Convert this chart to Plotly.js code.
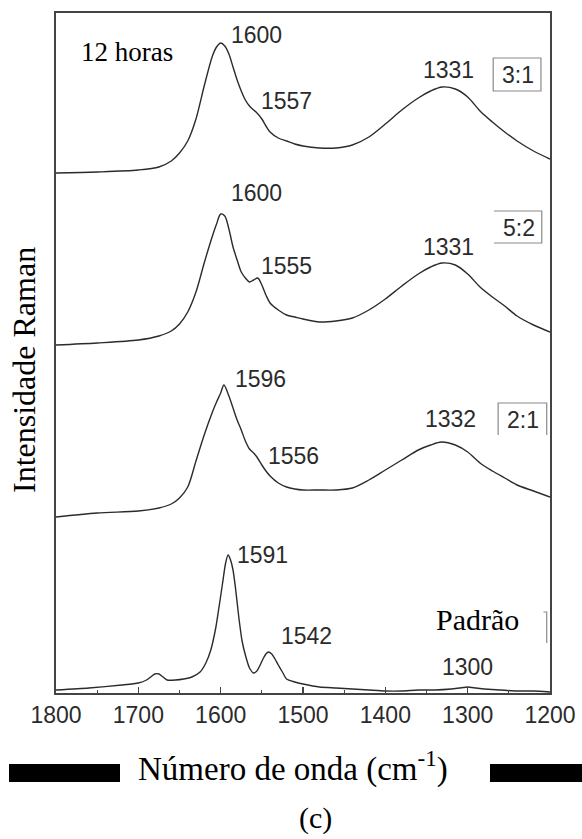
<!DOCTYPE html>
<html>
<head>
<meta charset="utf-8">
<script src="https://cdn.plot.ly/plotly-3.0.1.min.js"></script>
<style>
  html, body { margin: 0; padding: 0; background: #fff; }
  #chart { width: 582px; height: 839px; }
</style>
</head>
<body>
<div id="chart"></div>
<script>
// Raman spectra after 12 h of synthesis, three molar ratios and the reference (Padrão).
// Wavenumbers in cm-1, intensities in arbitrary units (each spectrum from its own baseline).

const wn31 = [1800,1750,1700,1675,1660,1650,1640,1630,1620,1610,1605,1600,1595,1590,1585,1580,1575,1570,1565,1560,1557,1550,1545,1540,1530,1520,1510,1500,1480,1460,1440,1420,1400,1380,1360,1345,1331,1315,1300,1285,1270,1255,1240,1220,1200];
const int31 = [5,6,8,11,17,25,37,59,92,122,131,135,132,124,111,98,87,78,72,68,66,59,52,46,40,37,34,32,30,30,33,41,54,68,80,87,91,89,81,67,56,46,37,27,19];

const wn52 = [1800,1750,1700,1675,1660,1650,1640,1630,1620,1610,1605,1600,1595,1590,1585,1580,1575,1570,1565,1560,1555,1550,1545,1540,1530,1520,1510,1500,1480,1460,1440,1420,1400,1380,1360,1345,1331,1315,1300,1285,1270,1255,1240,1220,1200];
const int52 = [3,5,8,12,17,24,36,56,85,112,124,134,132,119,101,88,76,70,66,68,70,63,53,45,38,33,31,29,26,27,30,38,49,62,74,81,85,83,74,61,51,42,32,23,16];

const wn21 = [1800,1750,1700,1675,1660,1650,1640,1630,1620,1610,1605,1600,1596,1590,1585,1580,1575,1570,1565,1560,1556,1550,1545,1540,1530,1520,1510,1500,1480,1460,1440,1420,1400,1380,1360,1345,1332,1315,1300,1285,1270,1255,1240,1220,1200];
const int21 = [1,5,7,10,14,20,31,57,83,106,116,125,133,122,110,98,88,77,69,65,61,53,47,42,35,31,29,28,28,28,30,38,48,58,68,73,76,73,66,55,47,40,33,27,21];

const wnPad = [1800,1760,1720,1700,1690,1685,1680,1675,1670,1665,1655,1645,1635,1625,1618,1612,1606,1602,1598,1594,1591,1588,1585,1582,1578,1574,1570,1565,1560,1556,1552,1548,1545,1542,1538,1534,1530,1525,1520,1510,1500,1480,1460,1440,1420,1400,1380,1360,1340,1320,1310,1300,1290,1280,1260,1240,1220,1200];
const intPad = [3,5,8,10,13,16,19,19,16,13,13,14,16,21,30,43,65,86,108,130,138,133,123,105,76,52,38,25,20,22,28,35,39,41,39,34,28,21,14,11,9,6,5,4,3,2,2,3,3,4,5,6,5,4,3,2,2,1];

// labelled band positions (cm-1)
const peaks31 = [1600, 1557, 1331];
const peaks52 = [1600, 1555, 1331];
const peaks21 = [1596, 1556, 1332];
const peaksPad = [1591, 1542, 1300];

const ratioLabels = ["3:1", "5:2", "2:1"];
const standardLabel = "Padrão";
const timeLabel = "12 horas";

// vertical stacking of the spectra
const offsets = [515, 345, 175, 0];

const INK = "#2b2b2b";
const SANS = "Liberation Sans, Arial, sans-serif";
const SERIF = "Liberation Serif, Times New Roman, serif";

function spectrum(x, y, off, smooth) {
  return {
    x: x,
    y: y.map(v => v + off),
    type: "scatter",
    mode: "lines",
    line: { color: INK, width: 1.4, shape: "spline", smoothing: smooth },
    hoverinfo: "skip",
    showlegend: false
  };
}

const traces = [
  spectrum(wn31, int31, offsets[0], 0.85),
  spectrum(wn52, int52, offsets[1], 0.85),
  spectrum(wn21, int21, offsets[2], 0.85),
  spectrum(wnPad, intPad, offsets[3], 0.6)
];

function num(text, x, y) {
  return { text: String(text), x: x, y: y, xref: "x", yref: "y", showarrow: false,
           xanchor: "center", yanchor: "middle",
           font: { family: SANS, size: 23, color: INK } };
}

// pixel helpers for paper-anchored items (plot area 56..550 x 13..693)
const px = x => (x - 56) / 494;
const py = y => (693 - y) / 680;

const annotations = [
  // 3:1
  num(peaks31[0], 1556, 658),
  num(peaks31[1], 1520, 592),
  num(peaks31[2], 1323, 623),
  num(ratioLabels[0], 1239, 618),
  // 5:2
  num(peaks52[0], 1556, 500),
  num(peaks52[1], 1520, 427),
  num(peaks52[2], 1323, 446),
  num(ratioLabels[1], 1238, 465),
  // 2:1
  num(peaks21[0], 1552, 314),
  num(peaks21[1], 1511, 237),
  num(peaks21[2], 1321, 274),
  num(ratioLabels[2], 1233, 273),
  // reference
  num(peaksPad[0], 1549, 138),
  num(peaksPad[1], 1496, 57),
  num(peaksPad[2], 1300, 26),
  { text: standardLabel, x: 1288, y: 74, xref: "x", yref: "y", showarrow: false,
    xanchor: "center", yanchor: "middle", font: { family: SERIF, size: 30, color: "#000" } },
  { text: timeLabel, x: 1714, y: 641, xref: "x", yref: "y", showarrow: false,
    xanchor: "center", yanchor: "middle", font: { family: SERIF, size: 27, color: "#000" } },
  // axis titles and panel tag
  { text: "Intensidade Raman", x: px(24), y: py(370), xref: "paper", yref: "paper",
    showarrow: false, textangle: -90, xanchor: "center", yanchor: "middle",
    font: { family: SERIF, size: 32, color: "#000" } },
  { text: "Número de onda (cm<sup>-1</sup>)", x: px(293), y: py(766), xref: "paper", yref: "paper",
    showarrow: false, xanchor: "center", yanchor: "middle",
    font: { family: SERIF, size: 33, color: "#000" } },
  { text: "(c)", x: px(315), y: py(818), xref: "paper", yref: "paper",
    showarrow: false, xanchor: "center", yanchor: "middle",
    font: { family: SERIF, size: 30, color: "#000" } }
];

const frameLine = { color: "#8a8a8a", width: 1.2 };
const shapes = [
  // ratio boxes
  { type: "rect", xref: "x", yref: "y", x0: 1269, x1: 1211, y0: 602, y1: 635, line: frameLine },
  { type: "path", xref: "x", yref: "y", path: "M 1268 482 L 1210 482 L 1210 450 L 1268 450", line: frameLine },
  { type: "path", xref: "x", yref: "y", path: "M 1263 258 L 1263 290 L 1204 290 L 1204 258", line: frameLine },
  { type: "path", xref: "x", yref: "y", path: "M 1208 81 L 1204 81 L 1204 50", line: frameLine },
  // bars beside the x-axis title
  { type: "rect", xref: "paper", yref: "paper", x0: px(9), x1: px(120), y0: py(782), y1: py(764),
    fillcolor: "#000", line: { width: 0 } },
  { type: "rect", xref: "paper", yref: "paper", x0: px(490), x1: px(584), y0: py(782), y1: py(764),
    fillcolor: "#000", line: { width: 0 } }
];

const layout = {
  width: 582,
  height: 839,
  margin: { l: 56, r: 32, t: 13, b: 146, pad: 0 },
  paper_bgcolor: "#fff",
  plot_bgcolor: "#fff",
  showlegend: false,
  xaxis: {
    range: [1800, 1200],
    tick0: 1200, dtick: 100,
    ticks: "inside", ticklen: 6, tickwidth: 1.5, tickcolor: "#444",
    minor: { ticks: "inside", ticklen: 3, tick0: 1200, dtick: 50, tickcolor: "#444", tickwidth: 1.2 },
    showline: true, linewidth: 2, linecolor: "#444", mirror: true,
    showgrid: false, zeroline: false,
    tickfont: { family: SANS, size: 23, color: INK },
    ticklabelstandoff: 0
  },
  yaxis: {
    range: [0, 680],
    showticklabels: false, ticks: "",
    showline: true, linewidth: 2, linecolor: "#444", mirror: true,
    showgrid: false, zeroline: false
  },
  annotations: annotations,
  shapes: shapes
};

Plotly.newPlot("chart", traces, layout, { staticPlot: true, displayModeBar: false });
</script>
</body>
</html>
